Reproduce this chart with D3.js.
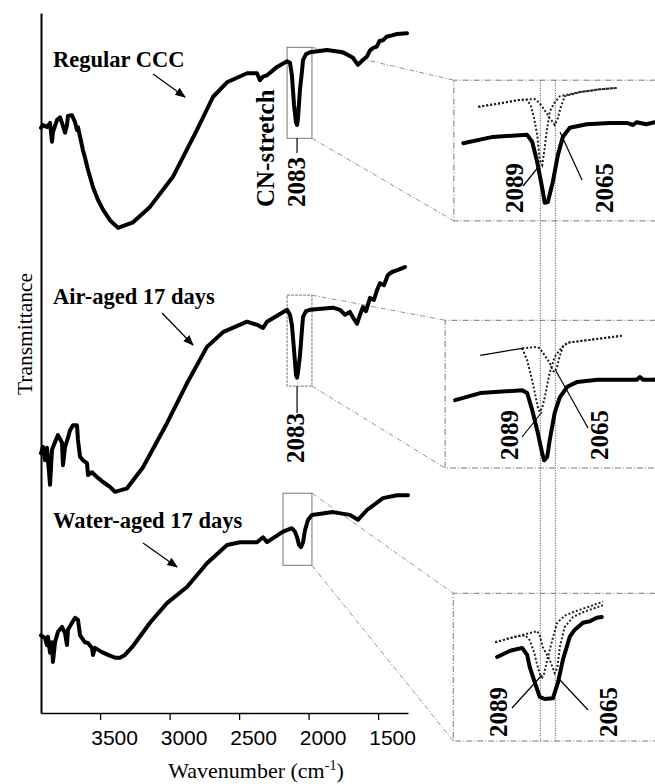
<!DOCTYPE html>
<html>
<head>
<meta charset="utf-8">
<script src="https://cdn.jsdelivr.net/npm/d3@7"></script>
<style>
  body { margin: 0; background: #fff; }
  text { font-family: "Liberation Serif", "DejaVu Serif", serif; }
</style>
</head>
<body>
<script>
// IR spectra, [wavenumber (cm-1), transmittance (a.u., traces offset)]
const regular = [
  [3925,83.6],[3911,84.0],[3882,83.7],[3860,84.3],[3846,81.6],[3839,83.0],[3810,84.7],[3788,85.1],
  [3774,84.3],[3752,82.9],[3738,84.0],[3731,85.3],[3702,85.4],[3680,84.4],[3666,83.3],[3659,83.7],
  [3644,82.3],[3623,80.4],[3608,79.3],[3587,77.6],[3551,75.1],[3515,73.3],[3479,71.9],[3429,70.4],
  [3371,69.3],[3263,70.1],[3141,72.3],[2976,76.6],[2803,83.3],[2688,88.0],[2587,90.1],[2443,91.4],
  [2371,91.4],[2350,90.4],[2328,90.9],[2299,91.1],[2227,92.3],[2155,93.1],[2134,92.9],[2120,91.1],
  [2105,86.9],[2091,84.4],[2083,84.0],[2076,85.0],[2062,89.1],[2048,91.6],[2040,93.3],[2019,94.1],
  [1990,94.4],[1868,94.7],[1753,94.4],[1681,93.6],[1645,92.6],[1609,93.3],[1580,93.8],[1560,94.6],
  [1537,95.0],[1510,95.2],[1490,96.0],[1465,96.1],[1440,96.6],[1400,96.8],[1364,97.0],[1292,97.1]
];
const airAged = [
  [3925,37.1],[3911,38.0],[3896,36.1],[3882,37.9],[3860,32.6],[3846,37.6],[3824,38.7],[3803,39.7],
  [3774,38.6],[3767,35.4],[3752,38.0],[3731,39.3],[3716,40.4],[3695,41.1],[3666,41.1],[3659,39.0],
  [3644,36.6],[3623,36.1],[3594,35.7],[3587,34.0],[3558,34.4],[3522,33.7],[3479,33.0],[3429,32.3],
  [3393,31.6],[3306,32.1],[3191,35.1],[3019,41.4],[2875,47.1],[2731,52.3],[2616,54.4],[2443,55.9],
  [2364,55.4],[2328,55.0],[2299,55.9],[2155,57.6],[2134,56.9],[2120,55.4],[2105,51.9],[2091,48.3],
  [2083,47.9],[2076,48.7],[2062,51.1],[2048,54.7],[2040,56.6],[2019,57.4],[1990,57.6],[1825,57.9],
  [1775,57.6],[1738,56.9],[1703,57.3],[1674,56.3],[1652,55.6],[1630,56.9],[1609,58.0],[1587,57.4],
  [1558,59.3],[1530,59.0],[1508,60.4],[1487,61.4],[1458,61.1],[1429,62.6],[1400,63.0],[1357,63.3],
  [1307,63.7]
];
const waterAged = [
  [3925,11.1],[3896,10.7],[3882,9.7],[3875,10.9],[3860,8.6],[3846,10.1],[3839,7.3],[3824,10.1],
  [3803,11.6],[3774,12.3],[3752,11.4],[3738,9.7],[3731,11.9],[3702,12.9],[3680,13.6],[3659,13.3],
  [3644,11.1],[3630,10.7],[3609,10.1],[3587,10.0],[3558,9.3],[3551,8.3],[3537,9.3],[3486,8.7],
  [3443,8.3],[3393,7.9],[3357,7.9],[3321,8.3],[3270,9.4],[3141,12.9],[3019,15.7],[2875,18.0],
  [2731,21.4],[2587,24.0],[2494,24.4],[2371,24.4],[2328,25.1],[2299,24.4],[2184,25.9],[2120,26.4],
  [2098,25.9],[2083,25.1],[2069,24.0],[2055,23.7],[2040,24.4],[2026,26.1],[2004,27.6],[1976,28.3],
  [1825,28.7],[1703,28.3],[1645,27.6],[1580,29.0],[1465,30.7],[1364,31.1],[1285,31.1]
];

// zoomed CN-stretch region: measured trace + fitted bands at 2089 / 2065
const regularZoom = [
  [2212,81.4],[2165,82.3],[2110,82.6],[2102,81.6],[2094,78.7],[2086,75.0],[2082,72.9],[2077,73.0],
  [2069,75.9],[2061,79.7],[2053,82.3],[2042,83.6],[2015,84.1],[1978,84.3],[1951,84.3],[1941,84.0],
  [1935,84.4],[1920,84.1],[1906,84.4],[1885,84.3]
];
const regularBand2089 = [
  [2188,86.6],[2153,87.1],[2121,87.6],[2110,87.6],[2104,86.7],[2099,85.0],[2094,82.6],[2090,79.0],
  [2086,78.3],[2083,80.1],[2078,83.6],[2074,85.9],[2067,87.1],[2058,88.1],[2026,88.7],[1994,89.1],[1967,89.3]
];
const regularBand2065 = [
  [2188,86.6],[2153,87.1],[2121,87.6],[2098,87.7],[2090,87.1],[2082,86.1],[2074,85.0],[2066,84.0],
  [2061,85.0],[2056,86.7],[2050,88.1],[2026,88.7],[1994,89.1],[1967,89.3]
];
const airZoom = [
  [2225,44.7],[2185,45.7],[2118,46.1],[2110,45.7],[2102,43.3],[2094,40.4],[2086,37.1],[2083,36.1],
  [2078,36.6],[2074,39.0],[2066,42.9],[2058,45.1],[2046,46.6],[2030,47.3],[1998,47.6],[1962,47.6],
  [1935,47.6],[1930,48.0],[1925,47.6],[1909,47.6],[1885,47.8]
];
const airBaseline = [[2185,51.1],[2118,52.1]];
const airBand2089 = [
  [2118,52.1],[2110,50.4],[2101,47.1],[2093,43.7],[2090,43.0],[2086,43.6],[2082,45.1],[2074,48.6],
  [2066,50.9],[2054,52.3],[2046,52.9],[2010,53.3],[1959,53.9]
];
const airBand2065 = [
  [2118,52.1],[2094,52.3],[2090,52.1],[2082,51.1],[2074,50.0],[2069,48.9],[2066,48.7],[2062,49.6],
  [2058,51.0],[2053,52.3],[2045,52.9],[2010,53.3],[1959,53.9]
];
const waterZoom = [
  [2158,8.0],[2137,8.9],[2118,9.3],[2110,8.3],[2106,6.6],[2098,4.4],[2090,2.3],[2082,2.0],
  [2069,2.1],[2061,4.3],[2053,7.6],[2046,9.7],[2042,10.9],[2034,11.9],[2021,12.9],[2010,13.1],
  [1999,13.6],[1991,13.7]
];
const waterBand2089 = [
  [2161,10.1],[2129,10.9],[2113,11.1],[2106,10.4],[2099,8.7],[2094,6.9],[2090,5.6],[2086,5.1],
  [2083,5.6],[2078,7.6],[2070,10.4],[2062,12.9],[2050,13.9],[2037,14.4],[1989,15.9]
];
const waterBand2065 = [
  [2161,10.1],[2129,10.9],[2106,11.4],[2094,11.7],[2090,11.1],[2085,9.4],[2074,7.6],[2069,6.4],
  [2066,5.7],[2062,6.4],[2058,9.4],[2050,12.3],[2037,13.7],[2021,14.4],[1989,15.4]
];

const bandCentres = [2089, 2065];
const wnTicks = [3500, 3000, 2500, 2000, 1500];

// zoom windows: [wn left, wn right, t bottom, t top] in the main panel,
// and [wn left, t bottom, t top] of the matching inset
const mainBoxes = [[2155,1976,82.1,95.1],[2155,1976,46.7,59.7],[2184,1976,21.1,31.4]];
const insetBoxes = [[2227,70.3,90.4],[2241,35.0,56.1],[2228,-4.0,17.1]];

var W = 655, H = 784;
var svg = d3.select("body").append("svg").attr("width", W).attr("height", H);

var x = d3.scaleLinear().domain([3925, 1285]).range([41, 408]);
var y = d3.scaleLinear().domain([0, 100]).range([713, 13]);
var xi = d3.scaleLinear().domain([2230, 1890]).range([452, 665]);

var line = d3.line().x(d => x(d[0])).y(d => y(d[1]));
var lineI = d3.line().x(d => xi(d[0])).y(d => y(d[1]));

// arrow head
svg.append("defs").append("marker")
  .attr("id", "ah").attr("viewBox", "0 0 10 10").attr("refX", 9).attr("refY", 5)
  .attr("markerWidth", 9).attr("markerHeight", 9).attr("orient", "auto")
  .append("path").attr("d", "M0,1 L10,5 L0,9 Z").attr("fill", "#000");

// axes
svg.append("g")
  .attr("transform", "translate(0,713)")
  .call(d3.axisBottom(x).tickValues(wnTicks).tickSize(7).tickSizeOuter(0).tickFormat(d3.format("d")))
  .call(g => g.select(".domain").attr("stroke-width", 1.6))
  .call(g => g.selectAll(".tick line").attr("stroke-width", 1.3))
  .call(g => g.selectAll(".tick text")
    .attr("x", 14).attr("dy", 0).attr("y", 32)
    .style("font-family", "'Liberation Sans', Arial, sans-serif")
    .style("font-size", "21px").attr("fill", "#000"));

svg.append("g")
  .attr("transform", "translate(41,0)")
  .call(d3.axisLeft(y).tickValues([]).tickSizeOuter(0))
  .call(g => g.select(".domain").attr("stroke-width", 2));

var xl = svg.append("text").attr("x", 256).attr("y", 778).attr("text-anchor", "middle")
  .style("font-size", "22px");
xl.append("tspan").text("Wavenumber (cm");
xl.append("tspan").attr("dy", -8).style("font-size", "14px").text("-1");
xl.append("tspan").attr("dy", 8).text(")");

svg.append("text")
  .attr("transform", "translate(32,334) rotate(-90)")
  .attr("text-anchor", "middle").style("font-size", "21.5px")
  .text("Transmittance");

// zoom boxes, connectors, inset frames
var gray = "#777";
mainBoxes.forEach(function(b, i) {
  var ib = insetBoxes[i];
  svg.append("rect")
    .attr("x", x(b[0])).attr("y", y(b[3]))
    .attr("width", x(b[1]) - x(b[0])).attr("height", y(b[2]) - y(b[3]))
    .attr("fill", "none").attr("stroke", gray).attr("stroke-width", 1)
    .attr("stroke-dasharray", i == 1 ? "3,1" : null);
  svg.append("line")
    .attr("x1", x(b[1])).attr("y1", y(b[3])).attr("x2", xi(ib[0])).attr("y2", y(ib[2]))
    .attr("stroke", gray).attr("stroke-width", 0.8).attr("stroke-dasharray", "5,2,1,2");
  svg.append("line")
    .attr("x1", x(b[1])).attr("y1", y(b[2])).attr("x2", xi(ib[0])).attr("y2", y(ib[1]))
    .attr("stroke", gray).attr("stroke-width", 0.8).attr("stroke-dasharray", "5,2,1,2");
  svg.append("path")
    .attr("d", "M" + xi(1870) + "," + y(ib[2]) + "H" + xi(ib[0]) + "V" + y(ib[1]) + "H" + xi(1870))
    .attr("fill", "none").attr("stroke", gray).attr("stroke-width", 1)
    .attr("stroke-dasharray", "6,2,1,2");
});

// band position markers through all insets
svg.selectAll(".marker")
  .data(bandCentres).enter().append("line")
  .attr("x1", d => xi(d)).attr("x2", d => xi(d))
  .attr("y1", y(insetBoxes[0][2])).attr("y2", y(insetBoxes[2][1]))
  .attr("stroke", "#444").attr("stroke-width", 1).attr("stroke-dasharray", "1,1.5");

// main spectra
[regular, airAged, waterAged].forEach(function(s) {
  svg.append("path").datum(s).attr("d", line)
    .attr("fill", "none").attr("stroke", "#000").attr("stroke-width", 4)
    .attr("stroke-linejoin", "round").attr("stroke-linecap", "round");
});

// insets
[regularBand2089, regularBand2065, airBand2089, airBand2065, waterBand2089, waterBand2065].forEach(function(s) {
  svg.append("path").datum(s).attr("d", lineI)
    .attr("fill", "none").attr("stroke", "#222").attr("stroke-width", 2)
    .attr("stroke-dasharray", "2,2");
});
svg.append("path").datum(airBaseline).attr("d", lineI)
  .attr("fill", "none").attr("stroke", "#000").attr("stroke-width", 1.3);
[regularZoom, airZoom, waterZoom].forEach(function(s) {
  svg.append("path").datum(s).attr("d", lineI)
    .attr("fill", "none").attr("stroke", "#000").attr("stroke-width", 4)
    .attr("stroke-linejoin", "round").attr("stroke-linecap", "round");
});

// labels
function label(tx, ty, s) {
  svg.append("text").attr("x", tx).attr("y", ty)
    .style("font-size", "22.5px").style("font-weight", "bold").text(s);
}
label(53, 67, "Regular CCC");
label(53, 304, "Air-aged 17 days");
label(53, 528, "Water-aged 17 days");

function vlabel(tx, ty, s) {
  svg.append("text").attr("transform", "translate(" + tx + "," + ty + ") rotate(-90)")
    .style("font-size", "25px").style("font-weight", "bold").text(s);
}
vlabel(274, 207, "CN-stretch");
vlabel(305, 207, "2083");
vlabel(304, 463, "2083");
vlabel(523, 213, "2089"); vlabel(613, 213, "2065");
vlabel(518, 460, "2089"); vlabel(608, 460, "2065");
vlabel(507, 737, "2089"); vlabel(617, 737, "2065");

function seg(x1, y1, x2, y2, arrow) {
  svg.append("line").attr("x1", x1).attr("y1", y1).attr("x2", x2).attr("y2", y2)
    .attr("stroke", "#000").attr("stroke-width", 1.2)
    .attr("marker-end", arrow ? "url(#ah)" : null);
}
seg(153, 74, 185, 97, true);
seg(162, 313, 193, 345, true);
seg(143, 543, 177, 567, true);
seg(x(2083), 138, x(2083), 153);
seg(x(2083), 386, x(2083), 413);
seg(523, 186, 540, 165); seg(560, 132, 582, 180);
seg(522, 437, 542, 412); seg(556, 371, 588, 428);
seg(512, 708, 542, 675); seg(560, 680, 588, 710);
</script>
</body>
</html>
